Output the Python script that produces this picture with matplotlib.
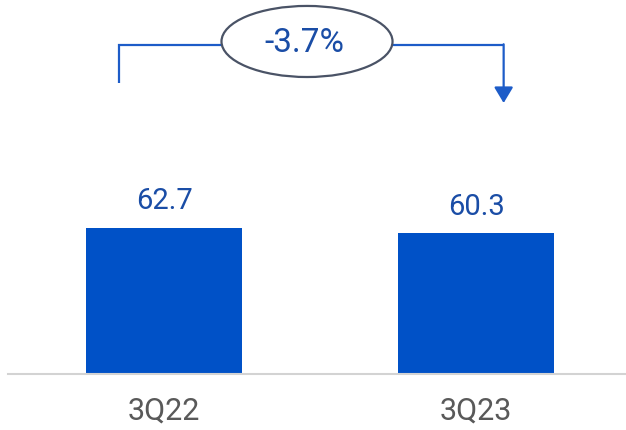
import matplotlib.pyplot as plt
from matplotlib.patches import Ellipse

# данные
categories = ["3Q22", "3Q23"]
values = [62.7, 60.3]
change_label = "-3.7%"

bar_color = "#0051C7"
label_color = "#1A4DA6"
line_color = "#1D5CC8"

plt.rcParams["font.family"] = ["Roboto", "DejaVu Sans"]

fig = plt.figure(figsize=(6.26, 4.30), dpi=100)
ax = fig.add_axes([8 / 626, 56 / 430, 618 / 626, 374 / 430])

x = list(range(len(categories)))
bars = ax.bar(x, values, width=0.5, color=bar_color)

# подписи над столбцами
for xi, v in zip(x, values):
    ax.annotate(f"{v:.1f}", xy=(xi, v), xytext=(0, 9), textcoords="offset points",
                ha="center", va="bottom", fontsize=21, color=label_color)

ax.set_xlim(-0.5, 1.48)
ax.set_ylim(0, 160.5)

ax.set_xticks(x)
ax.set_xticklabels(categories, fontsize=22, color="#595959")
ax.tick_params(axis="x", length=0, pad=16)
ax.set_yticks([])

for s in ["top", "right", "left"]:
    ax.spines[s].set_visible(False)
ax.spines["bottom"].set_color("#D3D3D3")
ax.spines["bottom"].set_linewidth(1.5)

# скобка с изменением
y_top = 141.2
x_left = x[0] - 0.143
x_right = x[1] + 0.088
ax.plot([x_left, x_left, x_right], [124.9, y_top, y_top], color=line_color,
        lw=1.6, clip_on=False, solid_capstyle="butt", solid_joinstyle="miter")
ax.annotate("", xy=(x_right, 116.3), xytext=(x_right, y_top + 0.3),
            arrowprops=dict(arrowstyle="-|>,head_width=0.48,head_length=0.8",
                            mutation_scale=12, color=line_color, lw=1.6,
                            shrinkA=0, shrinkB=0),
            annotation_clip=False)

ex = (x[0] + x[1]) / 2 - 0.042
ell = Ellipse((ex, 142.7), width=0.548, height=30.5, facecolor="white",
              edgecolor="#4A5366", lw=1.6, clip_on=False, zorder=3)
ax.add_patch(ell)
ax.text(ex - 0.008, 142.0, change_label, ha="center", va="center", fontsize=24,
        color=label_color, zorder=4)

fig.savefig("out.png", dpi=100)
